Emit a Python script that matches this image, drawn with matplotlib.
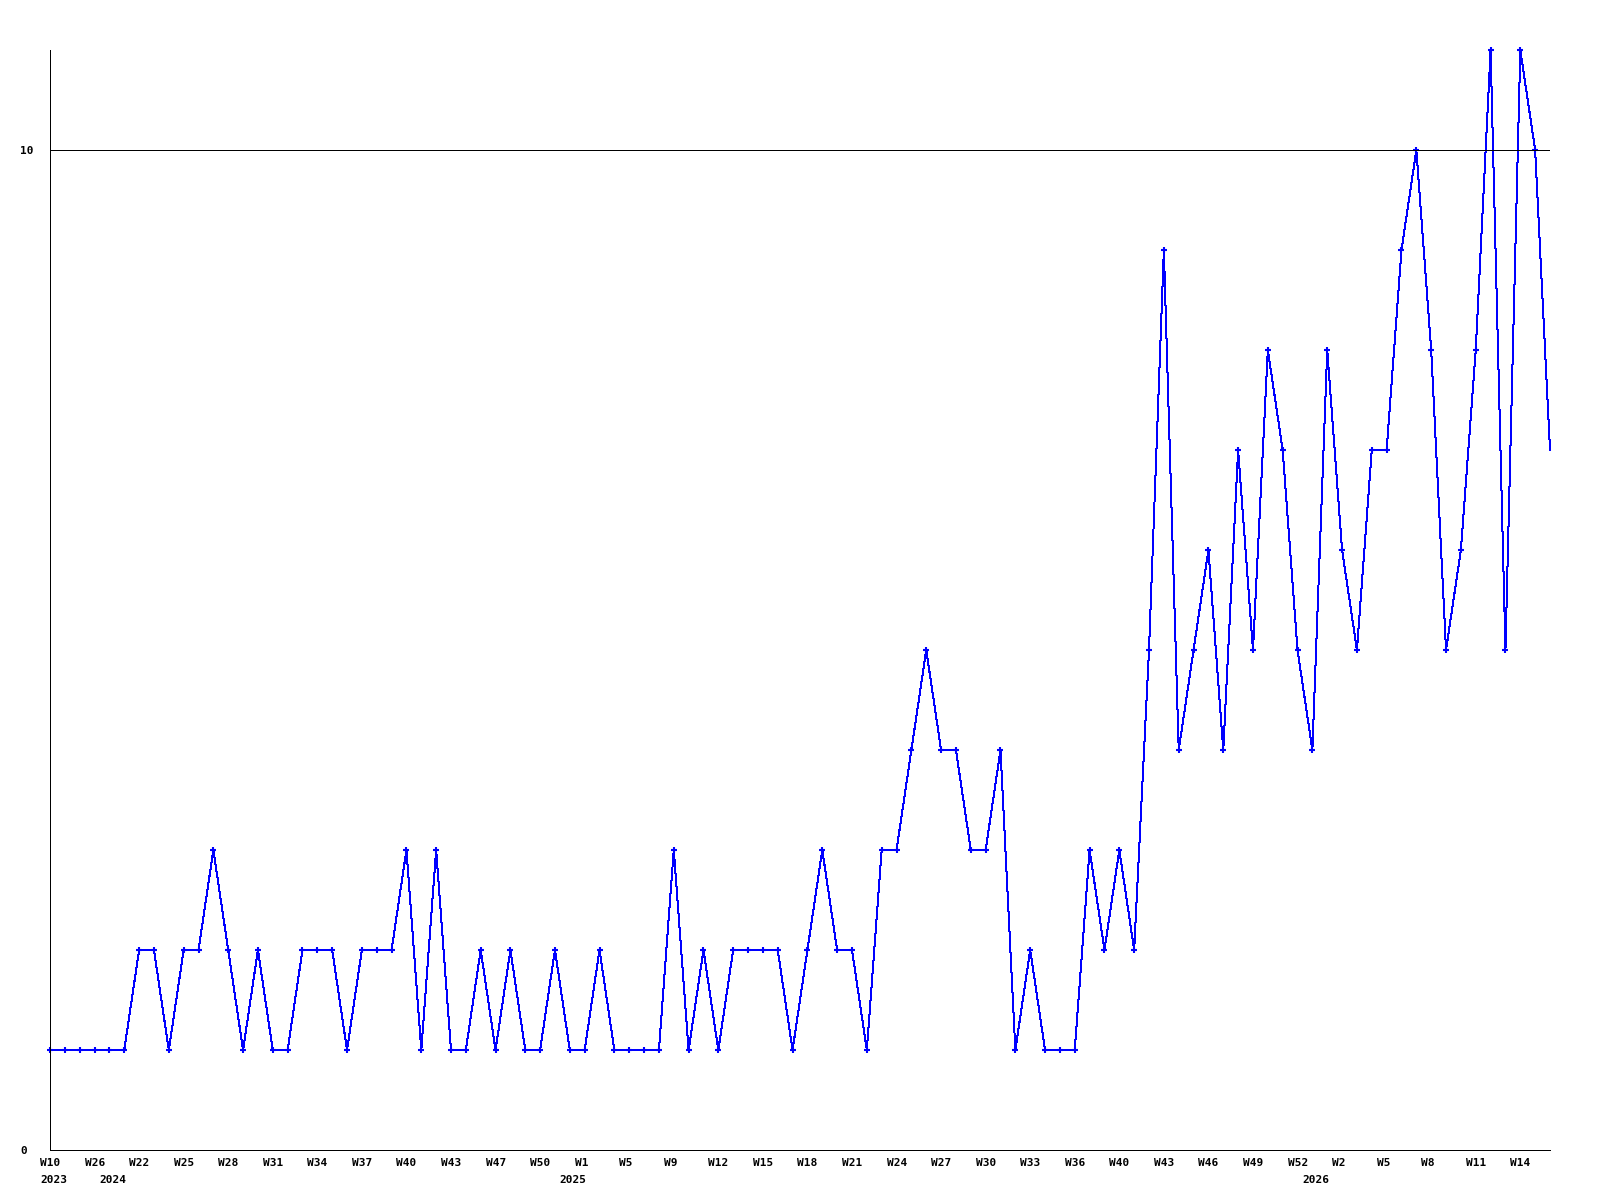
import matplotlib
matplotlib.use('Agg')
import matplotlib.pyplot as plt
from matplotlib.transforms import offset_copy

# weekly counts
values = [1, 1, 1, 1, 1, 1, 2, 2, 1, 2, 2, 3, 2, 1, 2, 1, 1, 2, 2, 2,
          1, 2, 2, 2, 3, 1, 3, 1, 1, 2, 1, 2, 1, 1, 2, 1, 1, 2, 1, 1,
          1, 1, 3, 1, 2, 1, 2, 2, 2, 2, 1, 2, 3, 2, 2, 1, 3, 3, 4, 5,
          4, 4, 3, 3, 4, 1, 2, 1, 1, 1, 3, 2, 3, 2, 5, 9, 4, 5, 6, 4,
          7, 5, 8, 7, 5, 4, 8, 6, 5, 7, 7, 9, 10, 8, 5, 6, 8, 11, 5, 11,
          10, 7]

week_labels = ['W10', 'W26', 'W22', 'W25', 'W28', 'W31', 'W34', 'W37', 'W40',
               'W43', 'W47', 'W50', 'W1', 'W5', 'W9', 'W12', 'W15', 'W18',
               'W21', 'W24', 'W27', 'W30', 'W33', 'W36', 'W40', 'W43', 'W46',
               'W49', 'W52', 'W2', 'W5', 'W8', 'W11', 'W14']
week_step = 3

year_labels = ['2023', '2024', '2025', '2026']
year_index = [0, 4, 35, 85]

y_ticks = [0, 10]

px = 72 / 100  # one pixel in points
font = dict(family='DejaVu Sans Mono', weight='bold', size=8, color='black')

fig = plt.figure(figsize=(16, 12), dpi=100)
ax = fig.add_axes([50 / 1600, 50 / 1200, 1500 / 1600, 1100 / 1200])

x = list(range(len(values)))
ax.plot(x, values, color='#0000ff', lw=px, marker='+', ms=5, mew=1.5,
        markevery=list(range(len(values) - 1)), clip_on=False,
        antialiased=False)
ax.axhline(10, color='black', lw=px, antialiased=False)

ax.set_xlim(0, len(values) - 1)
ax.set_ylim(0, 11)

for s in ['top', 'right']:
    ax.spines[s].set_visible(False)
for s in ['left', 'bottom']:
    ax.spines[s].set_linewidth(px)
    ax.spines[s].set_antialiased(False)

ax.set_xticks([])
ax.set_yticks(y_ticks)
ax.set_yticklabels([str(t) for t in y_ticks], fontdict=font, ha='left')
ax.tick_params(axis='y', length=0, pad=30 * px)

# week and year labels under the axis, left aligned a bit before each point
wk_tr = offset_copy(ax.get_xaxis_transform(), fig=fig, x=-10, y=-8, units='dots')
yr_tr = offset_copy(ax.get_xaxis_transform(), fig=fig, x=-10, y=-25, units='dots')
for i, lbl in enumerate(week_labels):
    ax.text(i * week_step, 0, lbl, transform=wk_tr, ha='left', va='top', **font)
for i, lbl in zip(year_index, year_labels):
    ax.text(i, 0, lbl, transform=yr_tr, ha='left', va='top', **font)

fig.savefig('out.png', dpi=100, facecolor='white')
